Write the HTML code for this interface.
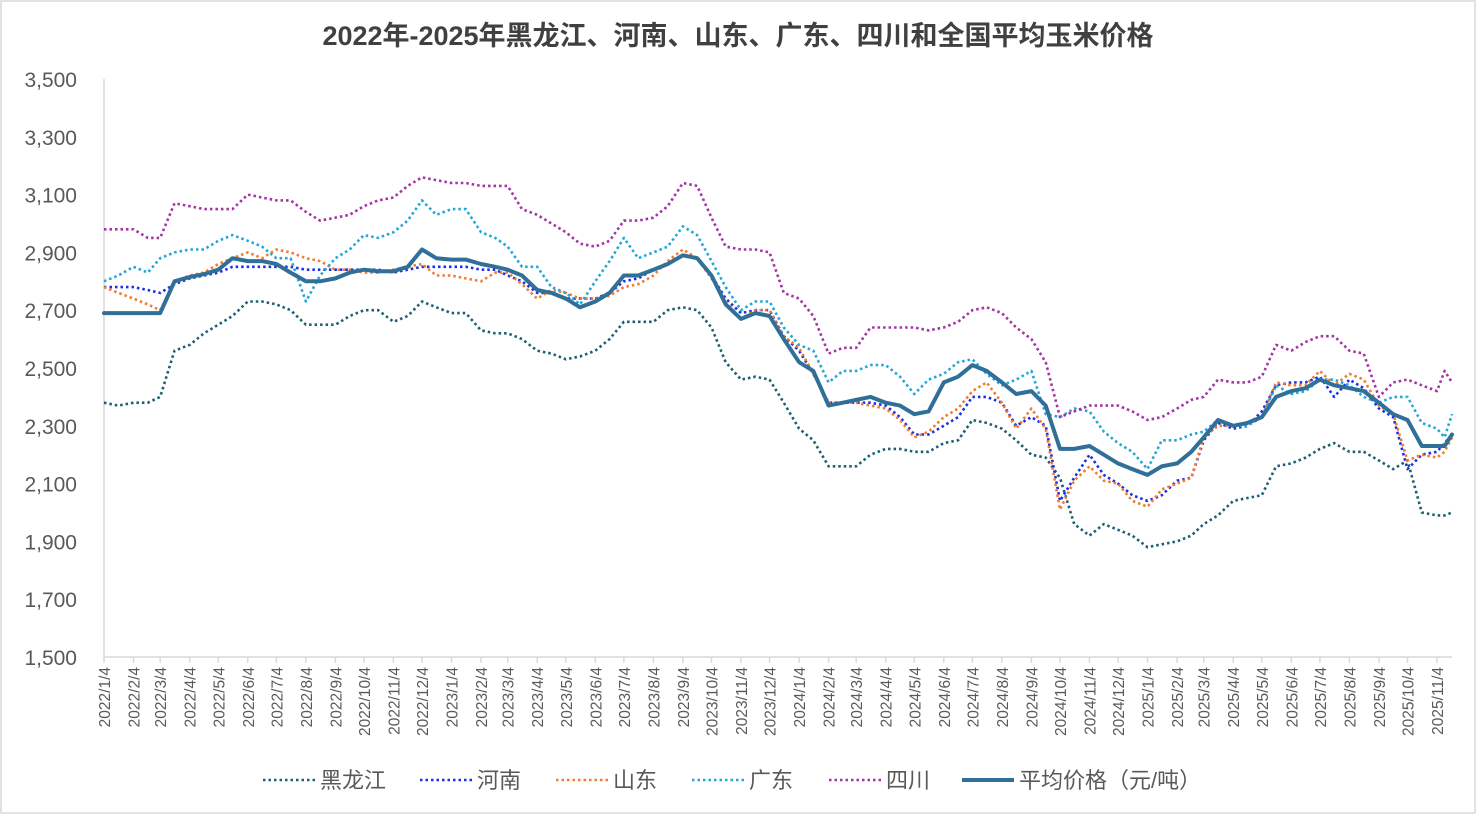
<!DOCTYPE html>
<html><head><meta charset="utf-8"><style>
body{margin:0;background:#fff;}
#wrap{position:relative;width:1476px;height:814px;overflow:hidden;font-family:"Liberation Sans","Noto Sans CJK SC",sans-serif;}
</style></head><body>
<div id="wrap">
<svg id="chart" width="1476" height="814"></svg>
</div>
<script>
const yTicks=[1500,1700,1900,2100,2300,2500,2700,2900,3100,3300,3500];
const seriesNames=["黑龙江","河南","山东","广东","四川","平均价格（元/吨）"];
const heilongjiang=[2380,2370,2380,2380,2400,2560,2580,2620,2650,2680,2730,2730,2720,2700,2650,2650,2650,2680,2700,2700,2660,2680,2730,2710,2690,2690,2630,2620,2620,2600,2560,2550,2530,2540,2560,2600,2660,2660,2660,2700,2710,2700,2640,2520,2460,2470,2460,2380,2290,2250,2160,2160,2160,2200,2220,2220,2210,2210,2240,2250,2320,2310,2290,2250,2200,2190,2120,1960,1920,1960,1940,1920,1880,1890,1900,1920,1960,1990,2040,2050,2060,2160,2170,2190,2220,2240,2210,2210,2180,2150,2180,2000,1990,1990,2000];
const henan=[2780,2780,2780,2770,2760,2790,2810,2820,2830,2850,2850,2850,2850,2850,2840,2840,2840,2840,2840,2840,2830,2840,2850,2850,2850,2850,2840,2840,2820,2800,2760,2760,2740,2740,2740,2760,2800,2810,2840,2860,2890,2880,2820,2740,2690,2700,2700,2610,2560,2480,2380,2380,2380,2380,2370,2330,2270,2270,2300,2330,2400,2400,2380,2300,2330,2300,2040,2120,2200,2130,2100,2060,2040,2060,2110,2120,2250,2310,2290,2300,2350,2440,2450,2450,2470,2400,2460,2430,2360,2330,2150,2200,2210,2240,2270];
const shandong=[2780,2760,2740,2720,2700,2800,2820,2830,2860,2880,2900,2880,2910,2900,2880,2870,2840,2840,2830,2830,2840,2850,2860,2820,2820,2810,2800,2830,2830,2790,2740,2770,2760,2740,2740,2750,2780,2790,2820,2870,2910,2880,2810,2730,2670,2700,2700,2610,2570,2480,2380,2380,2380,2370,2360,2320,2260,2280,2330,2360,2420,2450,2380,2290,2360,2290,2010,2110,2160,2110,2100,2040,2020,2080,2100,2120,2260,2300,2300,2310,2330,2450,2440,2440,2490,2440,2480,2460,2370,2340,2180,2200,2190,2210,2260];
const guangdong=[2800,2820,2850,2830,2880,2900,2910,2910,2940,2960,2940,2920,2880,2880,2730,2820,2880,2910,2960,2950,2970,3010,3080,3030,3050,3050,2970,2950,2920,2850,2850,2780,2760,2720,2800,2870,2950,2880,2900,2920,2990,2960,2870,2780,2700,2730,2730,2640,2580,2560,2450,2490,2490,2510,2510,2470,2410,2460,2480,2520,2530,2480,2440,2460,2490,2340,2330,2360,2350,2280,2240,2210,2150,2250,2250,2270,2280,2320,2300,2300,2330,2440,2410,2420,2460,2460,2440,2400,2380,2400,2400,2310,2290,2260,2340];
const sichuan=[2980,2980,2980,2950,2950,3070,3060,3050,3050,3050,3100,3090,3080,3080,3040,3010,3020,3030,3060,3080,3090,3130,3160,3150,3140,3140,3130,3130,3130,3050,3030,3000,2970,2930,2920,2940,3010,3010,3020,3060,3140,3130,3020,2920,2910,2910,2900,2760,2740,2680,2550,2570,2570,2640,2640,2640,2640,2630,2640,2660,2700,2710,2690,2640,2600,2520,2330,2350,2370,2370,2370,2350,2320,2330,2360,2390,2400,2460,2450,2450,2470,2580,2560,2590,2610,2610,2560,2550,2400,2450,2460,2440,2420,2490,2450];
const average=[2690,2690,2690,2690,2690,2800,2815,2825,2840,2880,2870,2870,2860,2830,2800,2800,2810,2830,2840,2835,2835,2850,2910,2880,2875,2875,2860,2850,2840,2820,2770,2760,2740,2710,2730,2760,2820,2820,2840,2860,2890,2880,2820,2720,2670,2690,2680,2600,2520,2490,2370,2380,2390,2400,2380,2370,2340,2350,2450,2470,2510,2490,2450,2410,2420,2370,2220,2220,2230,2200,2170,2150,2130,2160,2170,2210,2260,2320,2300,2310,2330,2400,2420,2430,2460,2440,2430,2420,2380,2340,2320,2230,2230,2230,2270];
const colors=["#1b5f73","#1c2ee6","#f07b32","#20a6d8","#a333a5","#2f6f98"];

const svg=document.getElementById('chart');
const NS="http://www.w3.org/2000/svg";
const X0=104,X1=1452,Y0=657,Y1=79;
const d0=Date.UTC(2022,0,4), pxPerDay=(1437-104)/((Date.UTC(2025,10,4)-d0)/864e5);
function xOfDate(y,m,d){return X0+((Date.UTC(y,m,d)-d0)/864e5)*pxPerDay;}
function xOfIndex(i){
  if(i===94) return X1;
  const m=i>>1, y=2022+Math.floor(m/12), mo=m%12;
  let day=(i%2)?19:4;
  if(m===46&&i%2) day=12;
  return xOfDate(y,mo,day);
}
function yOf(v){return Y0-(v-1500)/2000*(Y0-Y1);}
function el(tag,attrs,text){const e=document.createElementNS(NS,tag);for(const k in attrs)e.setAttribute(k,attrs[k]);if(text!==undefined)e.textContent=text;svg.appendChild(e);return e;}

const border=el('rect',{x:1,y:1,width:1474,height:812,fill:'none',stroke:'#d9d9d9','stroke-width':1.5});


const title=el('text',{x:738,y:45,'text-anchor':'middle','font-size':27,'font-weight':'bold',fill:'#404040'},'2022年-2025年黑龙江、河南、山东、广东、四川和全国平均玉米价格');



yTicks.forEach(v=>{
  const t=el('text',{x:77,y:yOf(v)+8,'text-anchor':'end','font-size':21,fill:'#595959'},v.toLocaleString('en-US'));
  
  
});
const ya=el('line',{x1:X0,y1:Y1,x2:X0,y2:Y0,stroke:'#d9d9d9','stroke-width':1.5});


const xa=el('line',{x1:X0,y1:Y0,x2:X1,y2:Y0,stroke:'#d9d9d9','stroke-width':1.5});



for(let m=0;m<=46;m++){
  const y=2022+Math.floor(m/12), mo=m%12, x=xOfDate(y,mo,4);
  const tk=el('line',{x1:x,y1:Y0,x2:x,y2:Y0+6,stroke:'#d9d9d9','stroke-width':1.5});
  
  
  const lbl=y+'/'+(mo+1)+'/4';
  const t=el('text',{x:0,y:0,'text-anchor':'end','font-size':15.5,fill:'#595959',transform:`translate(${x+6},${Y0+10}) rotate(-90)`},lbl);
  
  
}

const allSeries=[heilongjiang,henan,shandong,guangdong,sichuan,average];
const slugs=['heilongjiang','henan','shandong','guangdong','sichuan','average'];
allSeries.forEach((arr,s)=>{
  const pts=arr.map((v,i)=>xOfIndex(i).toFixed(1)+','+yOf(v).toFixed(1)).join(' ');
  const isAvg=s===5;
  const p=el('polyline',{points:pts,fill:'none',stroke:colors[s],'stroke-width':isAvg?4:2.6,'stroke-dasharray':isAvg?'none':'2.5,3','stroke-linejoin':'round','stroke-linecap':isAvg?'round':'butt'});
  
  
});

const legX=[263,420,556,692,829,962];
seriesNames.forEach((n,s)=>{
  const isAvg=s===5;
  const l=el('line',{x1:legX[s],y1:780,x2:legX[s]+52,y2:780,stroke:colors[s],'stroke-width':isAvg?4:2.6,'stroke-dasharray':isAvg?'none':'2.5,3'});
  
  
  const t=el('text',{x:legX[s]+57,y:788,'font-size':22,fill:'#595959'},n);
  
  
});
</script>
</body></html>
